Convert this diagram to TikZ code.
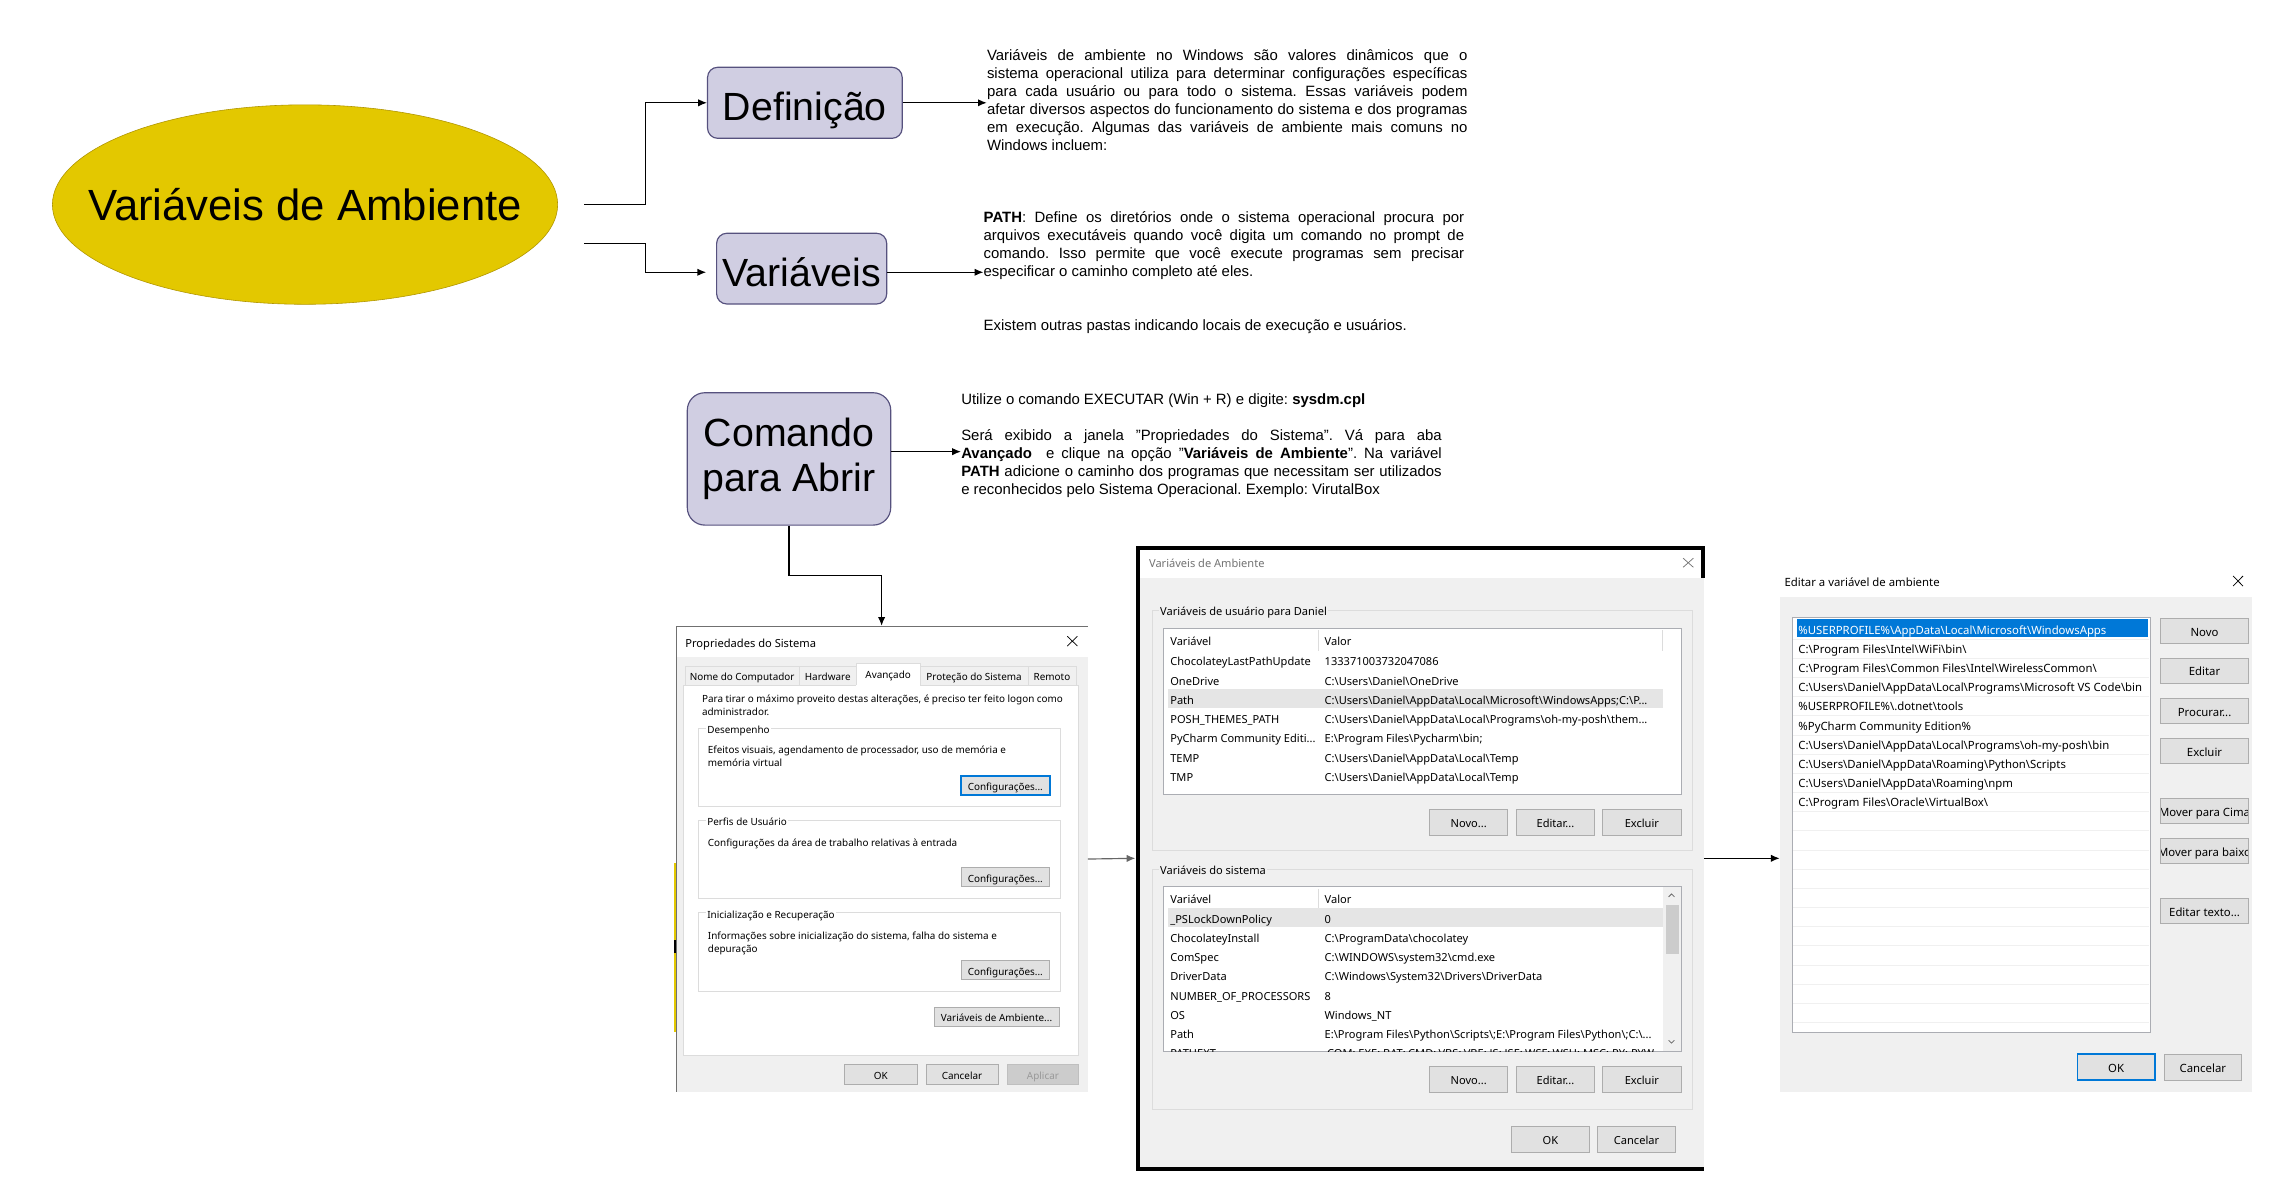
\documentclass[tikz,border=0pt]{standalone}
\usepackage{fontspec}
\setmainfont{Liberation Sans}
\newfontfamily\winfont{Noto Sans}
\usetikzlibrary{arrows.meta,positioning,shapes.geometric}
\definecolor{amarelo}{HTML}{E3C800}
\definecolor{amarelob}{HTML}{B09500}
\definecolor{roxo}{HTML}{D0CEE2}
\definecolor{roxob}{HTML}{56517E}
\definecolor{fundo}{HTML}{F0F0F0}
\definecolor{botaof}{HTML}{E1E1E1}
\definecolor{botaob}{HTML}{ADADAD}
\definecolor{grupob}{HTML}{DCDCDC}
\definecolor{listab}{HTML}{ABADB3}
\definecolor{selec}{HTML}{E5E5E5}
\definecolor{azul}{HTML}{0078D7}
\definecolor{bordaj}{HTML}{707070}
\newcommand{\bs}{\textbackslash}
\newcommand{\tres}{...}
\newcommand{\botao}[7][]{\node[botao,#1,minimum width={(#5-#3)*1pt},minimum height={(#6-#4)*1pt}]
  (#2) at ({(#3+#5)/2},{(#4+#6)/2}) {#7};}
\tikzset{
  seta/.style={-{Latex[length=6pt,width=5pt]},line width=.8pt},
  elipse/.style={ellipse,draw=amarelob,fill=amarelo,inner sep=0pt,
    minimum width=347pt,minimum height=137pt},
  caixa/.style={draw=roxob,fill=roxo,rounded corners=7pt,line width=.8pt,
    inner sep=0pt,font=\fontsize{27}{31}\selectfont},
  txt/.style={inner sep=0pt,font=\fontsize{10.25}{12.36}\selectfont},
  bloco/.style={txt,text width=330pt,align=justify,anchor=north west,
    execute at begin node={\tolerance=10000\hyphenpenalty=10000}},
  wtxt/.style={inner sep=0pt,anchor=west,text height=.72em,text depth=0pt},
  rotulo/.style={wtxt,inner xsep=1pt},
  aba/.style={inner sep=0pt,text height=.72em,text depth=0pt},
  botao/.style={draw=botaob,fill=botaof,inner sep=0pt,line width=.6pt,
    text height=.72em,text depth=0pt},
  grupo/.style={draw=grupob,line width=.6pt},
  lista/.style={draw=listab,fill=white,line width=.6pt},
  fechar/.style={line width=.5pt},
}

\begin{document}
\frenchspacing
\begin{tikzpicture}[x=1pt,y=-1pt]
  \useasboundingbox (0,0) rectangle (1568,826);

  \node[elipse] (amb) at (209.5,140.5) {};
  \node[font=\fontsize{30}{36}\selectfont,inner sep=0pt] (tamb) at (amb) {Variáveis de Ambiente};
  \node[caixa,minimum width=133.7pt,minimum height=48.8pt,text height=23.8pt,text depth=0pt]
    (def) at (552.8,70.6) {Definição};
  \node[caixa,minimum width=116.8pt,minimum height=48.6pt,text height=24pt,text depth=0pt]
    (var) at (550.6,184.5) {Variáveis};
  \node[caixa,rounded corners=12pt,minimum width=139.7pt,minimum height=90.9pt,align=center]
    (cmd) at (541.9,315.2) {Comando\\para Abrir};

  \node[bloco] (tdef) at (677.7,33.8)
    {Variáveis de ambiente no Windows são valores dinâmicos que o\linebreak
     sistema operacional utiliza para determinar configurações específicas\linebreak
     para cada usuário ou para todo o sistema. Essas variáveis podem\linebreak
     afetar diversos aspectos do funcionamento do sistema e dos programas\linebreak
     em execução. Algumas das variáveis de ambiente mais comuns no\linebreak
     Windows incluem:};
  \node[bloco] (tpath) at (675.4,145.3)
    {\textbf{PATH}: Define os diretórios onde o sistema operacional procura por\linebreak
     arquivos executáveis quando você digita um comando no prompt de\linebreak
     comando. Isso permite que você execute programas sem precisar\linebreak
     especificar o caminho completo até eles.};
  \node[txt,anchor=west] (texist) at (675.4,224.6)
    {Existem outras pastas indicando locais de execução e usuários.};
  \node[txt,anchor=west] (tcmdA) at (660,275)
    {Utilize o comando EXECUTAR (Win + R) e digite: \textbf{sysdm.cpl}};
  \node[bloco] (tcmdB) at (660,295)
    {Será exibido a janela "Propriedades do Sistema". Vá para aba\linebreak
     \textbf{Avançado}\ \ e clique na opção "\textbf{Variáveis de Ambiente}". Na variável\linebreak
     \textbf{PATH} adicione o caminho dos programas que necessitam ser utilizados\linebreak
     e reconhecidos pelo Sistema Operacional. Exemplo: VirutalBox};

  % janela 1
  \node[fill=white,inner sep=0pt,minimum width=283pt,minimum height=320pt] (jan1) at (605.5,590) {};
  \fill[fundo] (464.8,451) rectangle (747,750);
  \draw[bordaj,line width=.7pt] (747,430.4) -- (464.3,430.4) -- (464.3,750);
  \fill[amarelo] (462.6,592.7) rectangle (464,709);
  \fill (462.6,645.6) rectangle (464,654.6);
  \begin{scope}[font=\winfont\fontsize{6.8}{8}\selectfont]
    \node[wtxt,font=\winfont\fontsize{7.65}{9}\selectfont] (tit1) at (470.5,441) {Propriedades do Sistema};
    \draw[fechar] (733,437) -- (740,443.7) (733,443.7) -- (740,437);
    \draw[grupob,fill=white] (469,470.5) rectangle (740.5,724.6);
    \foreach \a/\b/\t [count=\i] in {470.5/549/Nome do Computador,549/588/Hardware,
        632/706/Proteção do Sistema,706/739/Remoto}{
      \draw[grupob,fill=fundo] (\a,470.5) rectangle (\b,457.5);
      \node[aba] (aba\i) at ({(\a+\b)/2},463.7) {\t};
    }
    \fill[white] (588,455.7) rectangle (632,471);
    \draw[grupob] (588,470.5) |- (632,455.7) -- (632,470.5);
    \node[aba] (aba5) at (610,462.5) {Avançado};
    \node[wtxt] (p1) at (482,479) {Para tirar o máximo proveito destas alterações, é preciso ter feito logon como};
    \node[wtxt] (p2) at (482,488) {administrador.};
    \draw[grupo] (479.5,500) rectangle (728,553.6);
    \node[rotulo,fill=white] (g1) at (484.6,500) {Desempenho};
    \node[wtxt] (g1a) at (486,513.6) {Efeitos visuais, agendamento de processador, uso de memória e};
    \node[wtxt] (g1b) at (486,522.7) {memória virtual};
    \botao[draw=azul,line width=1pt]{c1}{660}{533}{721}{546}{Configurações...}
    \draw[grupo] (479.5,563.2) rectangle (728,617);
    \node[rotulo,fill=white] (g2) at (484.6,563.2) {Perfis de Usuário};
    \node[wtxt] (g2a) at (486,577.6) {Configurações da área de trabalho relativas à entrada};
    \botao{c2}{660}{595.5}{721}{609}{Configurações...}
    \draw[grupo] (479.5,627) rectangle (728,680.6);
    \node[rotulo,fill=white] (g3) at (484.6,627) {Inicialização e Recuperação};
    \node[wtxt] (g3a) at (486,641.5) {Informações sobre inicialização do sistema, falha do sistema e};
    \node[wtxt] (g3b) at (486,650.4) {depuração};
    \botao{c3}{660}{659.3}{721}{673}{Configurações...}
    \botao{bamb}{641.5}{691.6}{727.4}{704.7}{Variáveis de Ambiente...}
    \botao{bok1}{580}{730.8}{630}{744.5}{OK}
    \botao{bcan1}{636}{730.8}{685.4}{744.5}{Cancelar}
    \botao[fill=black!20,draw=black!25,text=black!40]{bapl}{691.6}{730.8}{741}{744.5}{Aplicar}
  \end{scope}

  % janela 2
  \node[fill=white,inner sep=0pt,minimum width=390pt,minimum height=429pt] (jan2) at (975,589.5) {};
  \fill[fundo] (782,396.8) rectangle (1170,802);
  \draw[line width=2.6pt] (1169.5,397) -- (1169.5,376.2) -- (781.5,376.2) -- (781.5,802.8) -- (1170,802.8);
  \begin{scope}[font=\winfont\fontsize{7.6}{9}\selectfont]
    \node[wtxt,text=black!55] (tit2) at (789,386.5) {Variáveis de Ambiente};
    \draw[fechar,black!55] (1156,383.4) -- (1163,389.6) (1156,389.6) -- (1163,383.4);
    \draw[grupo] (791.5,419.4) rectangle (1162.5,584);
    \node[rotulo,fill=fundo] (gu) at (795.6,419.4) {Variáveis de usuário para Daniel};
    \draw[lista] (799.2,431.5) rectangle (1154.6,545.3);
    \fill[selec] (802,473.2) rectangle (1142,486.5);
    \draw[grupob] (905.4,433) -- (905.4,447) (1142,433) -- (1142,447);
    \node[wtxt] (hu1) at (803.6,440) {Variável};
    \node[wtxt] (hu2) at (909.6,440) {Valor};
    \foreach \n/\v [count=\i from 0] in {ChocolateyLastPathUpdate/133371003732047086,
        OneDrive/C:\bs{}Users\bs{}Daniel\bs{}OneDrive,
        Path/C:\bs{}Users\bs{}Daniel\bs{}AppData\bs{}Local\bs{}Microsoft\bs{}WindowsApps;C:\bs{}P\tres,
        POSH\_THEMES\_PATH/C:\bs{}Users\bs{}Daniel\bs{}AppData\bs{}Local\bs{}Programs\bs{}oh-my-posh\bs{}them\tres,
        PyCharm Community Editi\tres/E:\bs{}Program Files\bs{}Pycharm\bs{}bin;,
        TEMP/C:\bs{}Users\bs{}Daniel\bs{}AppData\bs{}Local\bs{}Temp,
        TMP/C:\bs{}Users\bs{}Daniel\bs{}AppData\bs{}Local\bs{}Temp}{
      \node[wtxt] (un\i) at (803.6,{453.8+13.2*\i}) {\n};
      \node[wtxt] (uv\i) at (909.6,{453.8+13.2*\i}) {\v};
    }
    \botao{bn1}{982}{555.8}{1035.5}{573.7}{Novo...}
    \botao{be1}{1041.6}{555.8}{1095}{573.7}{Editar...}
    \botao{bx1}{1100.7}{555.8}{1154.6}{573.7}{Excluir}
    \draw[grupo] (791.5,596.8) rectangle (1162.5,761.9);
    \node[rotulo,fill=fundo] (gs) at (795.6,596.8) {Variáveis do sistema};
    \draw[lista] (799.2,609) rectangle (1154.6,722.3);
    \fill[fundo] (1142,609.4) rectangle (1154.2,721.9);
    \fill[black!20] (1144,621.6) rectangle (1153,655.4);
    \draw[fechar,black!60] (1146,616) -- (1148,614) -- (1150,616) (1146,714.5) -- (1148,716.5) -- (1150,714.5);
    \fill[selec] (802,623.8) rectangle (1142,636.9);
    \draw[grupob] (905.4,610.5) -- (905.4,623.5);
    \node[wtxt] (hs1) at (803.6,617) {Variável};
    \node[wtxt] (hs2) at (909.6,617) {Valor};
    \begin{scope}
      \clip (799.6,609.4) rectangle (1141.8,721.9);
      \foreach \n/\v [count=\i from 0] in {\_PSLockDownPolicy/0,
          ChocolateyInstall/C:\bs{}ProgramData\bs{}chocolatey,
          ComSpec/C:\bs{}WINDOWS\bs{}system32\bs{}cmd.exe,
          DriverData/C:\bs{}Windows\bs{}System32\bs{}Drivers\bs{}DriverData,
          NUMBER\_OF\_PROCESSORS/8,
          OS/Windows\_NT,
          Path/E:\bs{}Program Files\bs{}Python\bs{}Scripts\bs{};E:\bs{}Program Files\bs{}Python\bs{};C:\bs{}\tres,
          PATHEXT/.COM;.EXE;.BAT;.CMD;.VBS;.VBE;.JS;.JSE;.WSF;.WSH;.MSC;.PY;.PYW}{
        \node[wtxt] (sn\i) at (803.6,{630.7+13.15*\i}) {\n};
        \node[wtxt] (sv\i) at (909.6,{630.7+13.15*\i}) {\v};
      }
    \end{scope}
    \botao{bn2}{982}{732.6}{1035.5}{750.5}{Novo...}
    \botao{be2}{1041.6}{732.6}{1095}{750.5}{Editar...}
    \botao{bx2}{1100.7}{732.6}{1154.6}{750.5}{Excluir}
    \botao{bok2}{1038.2}{773.8}{1091.5}{791.7}{OK}
    \botao{bcan2}{1097.3}{773.8}{1150.7}{791.7}{Cancelar}
  \end{scope}

  % janela 3
  \node[fill=white,inner sep=0pt,minimum width=324.5pt,minimum height=360pt] (jan3) at (1384.75,570) {};
  \fill[fundo] (1222.5,409.8) rectangle (1547,749.8);
  \begin{scope}[font=\winfont\fontsize{7.8}{9}\selectfont]
    \node[wtxt] (tit3) at (1225.5,399.5) {Editar a variável de ambiente};
    \draw[fechar] (1533.7,395.6) -- (1540.5,402.5) (1533.7,402.5) -- (1540.5,395.6);
    \draw[lista] (1231,424) rectangle (1476.6,709.3);
    \foreach \k in {0,...,20}
      \draw[fundo,line width=.5pt] (1231.6,{438.9+13.17*\k}) -- (1476,{438.9+13.17*\k});
    \fill[azul] (1234,425.4) rectangle (1475.5,437.3);
    \node[wtxt,text=white] (r0) at (1235,432) {\%USERPROFILE\%\bs{}AppData\bs{}Local\bs{}Microsoft\bs{}WindowsApps};
    \foreach \t [count=\i] in {C:\bs{}Program Files\bs{}Intel\bs{}WiFi\bs{}bin\bs{},
        C:\bs{}Program Files\bs{}Common Files\bs{}Intel\bs{}WirelessCommon\bs{},
        C:\bs{}Users\bs{}Daniel\bs{}AppData\bs{}Local\bs{}Programs\bs{}Microsoft VS Code\bs{}bin,
        \%USERPROFILE\%\bs{}.dotnet\bs{}tools,
        \%PyCharm Community Edition\%,
        C:\bs{}Users\bs{}Daniel\bs{}AppData\bs{}Local\bs{}Programs\bs{}oh-my-posh\bs{}bin,
        C:\bs{}Users\bs{}Daniel\bs{}AppData\bs{}Roaming\bs{}Python\bs{}Scripts,
        C:\bs{}Users\bs{}Daniel\bs{}AppData\bs{}Roaming\bs{}npm,
        C:\bs{}Program Files\bs{}Oracle\bs{}VirtualBox\bs{}}
      \node[wtxt] (r\i) at (1235,{432+13.18*\i}) {\t};
    \botao{bnovo}{1484}{424.7}{1544.2}{441.8}{Novo}
    \botao{bedit}{1484}{452}{1544.2}{469.3}{Editar}
    \botao{bproc}{1484}{479.6}{1544.2}{496.8}{Procurar...}
    \botao{bexc}{1484}{507}{1544.2}{524.3}{Excluir}
    \botao{bcima}{1484}{548.3}{1544.2}{565.5}{}
    \botao{bbaixo}{1484}{575.8}{1544.2}{593}{}
    \begin{scope}
      \clip (1484.4,548) rectangle (1543.8,593.5);
      \node[aba] (tcima) at (bcima.center) {Mover para Cima};
      \node[aba] (tbaixo) at (bbaixo.center) {Mover para baixo};
    \end{scope}
    \botao{btexto}{1484}{617}{1544.2}{634.1}{Editar texto...}
    \botao[draw=azul,line width=1pt]{bok3}{1426.7}{724}{1480}{741.8}{OK}
    \botao{bcan3}{1486.3}{724}{1539.6}{741.8}{Cancelar}
  \end{scope}

  \draw[seta] ([xshift=18pt]amb.east) -- ++(42.4,0) |- (def.west);
  \draw[seta,shorten >=6.8pt] ([xshift=18pt,yshift=-26.6pt]amb.east) -- ++(42.4,0) |- ([yshift=-2.5pt]var.west);
  \draw[seta] (def.east) -- (def.east -| tdef.west);
  \draw[seta] ([yshift=-2.5pt]var.east) -- ([yshift=-2.5pt]var.east -| tpath.west);
  \draw[seta] ([yshift=5pt]cmd.east) -- ([yshift=5pt]cmd.east -| tcmdB.west);
  \draw[seta] (cmd.south) -- ++(0,34.4) -| (jan1.north);
  \draw[seta,black!60] (jan1.east) -- (jan2.west);
  \draw[seta] (jan2.east) -- (jan2.east -| jan3.west);
\end{tikzpicture}
\end{document}
